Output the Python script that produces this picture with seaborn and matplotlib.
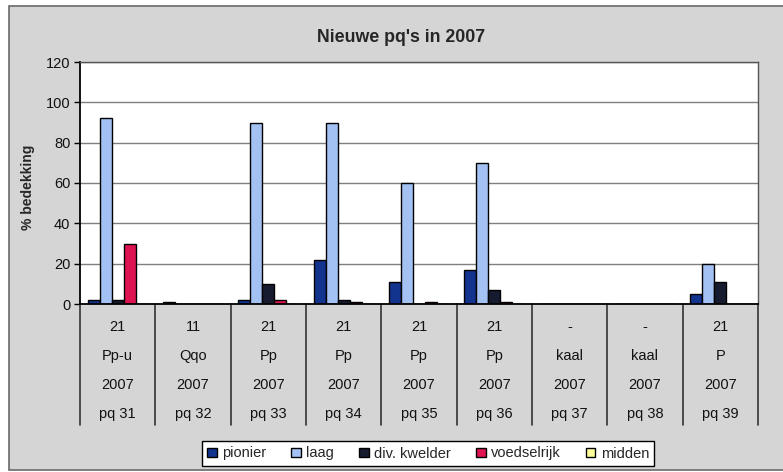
import numpy as np
import pandas as pd
import matplotlib
matplotlib.use("Agg")
import matplotlib.pyplot as plt
import matplotlib.patches as mpatches
import matplotlib.transforms as mtransforms
import seaborn as sns

# Category label rows (four lines under each group)
codes = ["21", "11", "21", "21", "21", "21", "-", "-", "21"]
types = ["Pp-u", "Qqo", "Pp", "Pp", "Pp", "Pp", "kaal", "kaal", "P"]
years = ["2007"] * 9
plots = ["pq 31", "pq 32", "pq 33", "pq 34", "pq 35", "pq 36", "pq 37", "pq 38", "pq 39"]

# Cover (%) per vegetation zone
series_names = ["pionier", "laag", "div. kwelder", "voedselrijk", "midden"]
pionier = [2, 1, 2, 22, 11, 17, 0, 0, 5]
laag = [92, 0, 90, 90, 60, 70, 0, 0, 20]
kwelder = [2, 0, 10, 2, 0, 7, 0, 0, 11]
voedselrijk = [30, 0, 2, 1, 1, 1, 0, 0, 0]
midden = [0, 0, 0, 0, 0, 0, 0, 0, 0]

colors = ["#12348f", "#a3c1f2", "#161b30", "#dd1450", "#ffff99"]

rows = []
for name, vals in zip(series_names, [pionier, laag, kwelder, voedselrijk, midden]):
    for p, v in zip(plots, vals):
        rows.append({"pq": p, "zone": name, "bedekking": v})
df = pd.DataFrame(rows)

sns.set_style("white")
plt.rcParams["font.family"] = ["Liberation Sans", "DejaVu Sans"]

W, H = 783, 472
fig = plt.figure(figsize=(W / 100, H / 100), dpi=100, facecolor="white")

# grey chart area with a thin frame
bg = mpatches.Rectangle((9 / W, 2 / H), (W - 9) / W + 0.01, (H - 8) / H,
                        transform=fig.transFigure, facecolor="#d5d5d5",
                        edgecolor="#6a6a6a", linewidth=1.2, zorder=-10)
fig.patches.append(bg)

ax = fig.add_axes([80 / W, 1 - 304 / H, (758 - 80) / W, (304 - 62) / H])
ax.set_facecolor("white")

sns.barplot(data=df, x="pq", y="bedekking", hue="zone", order=plots,
            hue_order=series_names, palette=colors, width=0.8,
            edgecolor="black", linewidth=1.0, saturation=1, ax=ax,
            legend=True)

ax.set_ylim(0, 120)
ax.set_yticks(np.arange(0, 121, 20))
ax.yaxis.grid(True, color="#7f7f7f", linewidth=1.0)
ax.set_axisbelow(True)
ax.set_xlabel("")
ax.set_ylabel("")
ax.set_xticks([])
ax.tick_params(axis="y", which="major", left=True, length=4, width=1,
               color="black", labelsize=10.5, pad=3, labelcolor="#111111")

for side in ["left", "bottom"]:
    ax.spines[side].set_color("black")
    ax.spines[side].set_linewidth(1.3)
for side in ["top", "right"]:
    ax.spines[side].set_color("#555555")
    ax.spines[side].set_linewidth(1.0)

# multi-row category labels and separators
trans = mtransforms.blended_transform_factory(ax.transData, ax.transAxes)
n = len(plots)
row_y = [-0.095, -0.215, -0.335, -0.455]
for i in range(n):
    for y, txt in zip(row_y, [codes[i], types[i], years[i], plots[i]]):
        ax.text(i, y, txt, transform=trans, ha="center", va="center",
                fontsize=10.5, color="#111111")
for b in np.arange(-0.5, n, 1.0):
    ax.plot([b, b], [0, -0.5], transform=trans, color="#333333",
            linewidth=1.2, clip_on=False)
ax.set_xlim(-0.5, n - 0.5)

# legend
handles, labels = ax.get_legend_handles_labels()
ax.get_legend().remove()
leg = fig.legend(handles, labels, loc="center", bbox_to_anchor=(428 / W, 1 - 453.5 / H),
                 ncol=5, fancybox=False, edgecolor="black", framealpha=1,
                 facecolor="white", fontsize=10.5, handlelength=0.65,
                 handleheight=0.65, handletextpad=0.35, columnspacing=1.75,
                 borderpad=0.35)
leg.get_frame().set_linewidth(1.0)

fig.text(401 / W, 1 - 38 / H, "Nieuwe pq's in 2007", ha="center", va="center",
         fontsize=12.8, fontweight="bold")
fig.text(28 / W, 1 - 187 / H, "% bedekking", ha="center", va="center",
         rotation=90, fontsize=10, fontweight="bold")

fig.savefig("out.png", dpi=100, facecolor=fig.get_facecolor())
